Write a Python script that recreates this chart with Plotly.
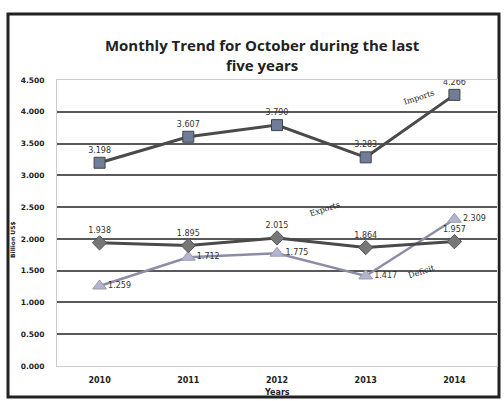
import plotly.graph_objects as go

years = ["2010", "2011", "2012", "2013", "2014"]
imports = [3.198, 3.607, 3.790, 3.283, 4.266]
exports = [1.938, 1.895, 2.015, 1.864, 1.957]
deficit = [1.259, 1.712, 1.775, 1.417, 2.309]
imports_lbl = ["3.198", "3.607", "3.790", "3.283", "4.266"]
exports_lbl = ["1.938", "1.895", "2.015", "1.864", "1.957"]
deficit_lbl = ["1.259", "1.712", "1.775", "1.417", "2.309"]
y_ticks = [0, 0.5, 1.0, 1.5, 2.0, 2.5, 3.0, 3.5, 4.0, 4.5]

xi = list(range(len(years)))
lblfont = dict(family="DejaVu Sans", size=8, color="#333")

fig = go.Figure()
fig.add_trace(go.Scatter(
    x=xi, y=deficit, mode="lines+markers+text", text=deficit_lbl,
    textposition="middle right", textfont=lblfont,
    line=dict(color="#8c8ca6", width=2.5),
    marker=dict(symbol="triangle-up", size=12, color="#b4b4cc", line=dict(color="#9a9ab4", width=1)),
    showlegend=False))
fig.add_trace(go.Scatter(
    x=xi, y=exports, mode="lines+markers+text", text=exports_lbl,
    textposition="top center", textfont=lblfont,
    line=dict(color="#4a4a4a", width=3),
    marker=dict(symbol="diamond", size=11, color="#777", line=dict(color="#555", width=1)),
    showlegend=False))
fig.add_trace(go.Scatter(
    x=xi, y=imports, mode="lines+markers+text", text=imports_lbl,
    textposition="top center", textfont=lblfont,
    line=dict(color="#4a4a4a", width=3),
    marker=dict(symbol="square", size=11, color="#6f7d98", line=dict(color="#444", width=1)),
    showlegend=False))

ann = dict(xref="x", yref="y", showarrow=False,
           font=dict(family="DejaVu Serif", size=8, color="#222"), textangle=-18)
fig.add_annotation(x=3.6, y=4.23, text="Imports", **ann)
fig.add_annotation(x=2.53, y=2.47, text="Exports", **ann)
fig.add_annotation(x=3.64, y=1.48, text="Deficit", **ann)

fig.add_annotation(xref="paper", yref="paper", x=0.5, y=-26/286, yanchor="middle",
                   text="<b>Years</b>", showarrow=False,
                   font=dict(family="DejaVu Sans", size=8, color="#222"))
fig.add_annotation(xref="paper", yref="paper", x=-44/440, y=(366-240)/286,
                   xanchor="center", yanchor="middle", textangle=-90,
                   text="<b>Billion US$</b>", showarrow=False,
                   font=dict(family="DejaVu Sans", size=6, color="#222"))

# outer frame
fig.add_shape(type="rect", xref="paper", yref="paper",
              x0=-49/440, x1=(499-57)/440, y0=-(397-366)/286, y1=(366-14)/286,
              line=dict(color="#222", width=3), fillcolor="rgba(0,0,0,0)", layer="below")

fig.update_layout(
    width=504, height=401,
    margin=dict(l=57, r=7, t=80, b=35),
    paper_bgcolor="white", plot_bgcolor="white",
    title=dict(text="Monthly Trend for October during the last<br>five years",
               x=0.52, xanchor="center", y=0.872, yanchor="middle",
               font=dict(family="Open Sans", size=15, color="#222", weight="bold")),
    xaxis=dict(range=[-0.48, 4.48], tickmode="array", tickvals=xi, ticktext=years,
               showgrid=False, zeroline=False, showline=True, linecolor="#ccc", mirror=True,
               tickfont=dict(family="DejaVu Sans", size=8, color="#222", weight="bold"),
               ticks="", ticklabelstandoff=6),
    yaxis=dict(range=[0, 4.5], tickmode="array", tickvals=y_ticks, tickformat=".3f",
               showgrid=True, gridcolor="#5a5a5a", gridwidth=1.5, zeroline=False,
               showline=True, linecolor="#ccc", mirror=True,
               tickfont=dict(family="DejaVu Sans", size=7.5, color="#222", weight="bold"),
               ticks="", ticklabelstandoff=10),
)
fig.write_html("out.html", config={"displayModeBar": False},
               post_script="document.body.style.margin='0';")
